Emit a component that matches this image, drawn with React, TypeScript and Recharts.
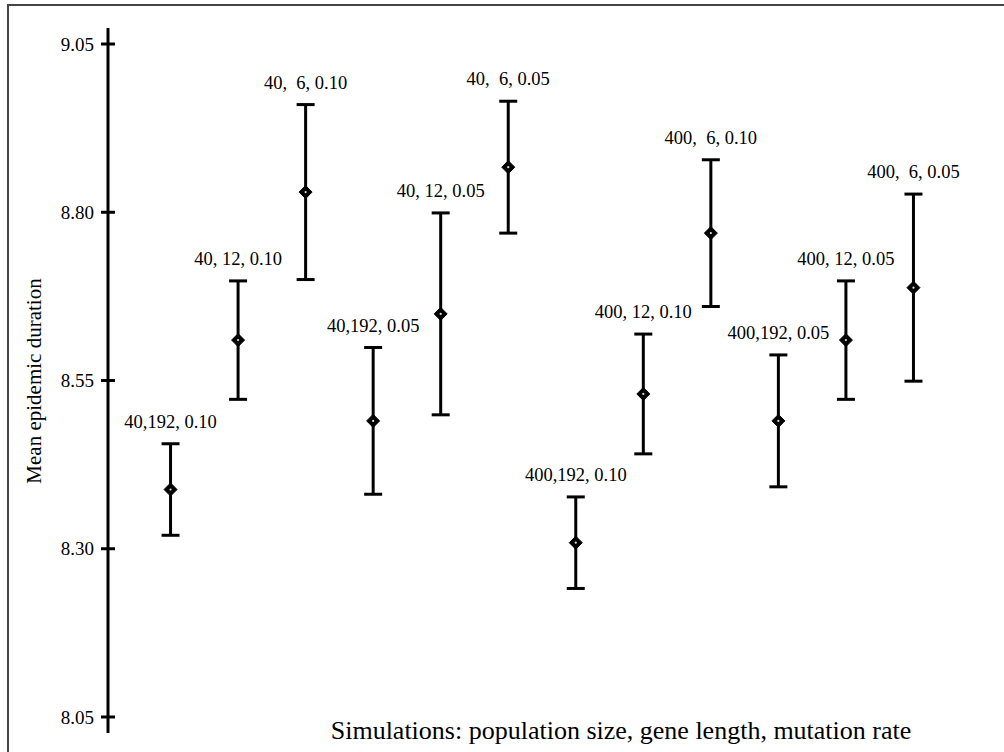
import React from 'react';
import {
  ScatterChart,
  Scatter,
  XAxis,
  YAxis,
  ErrorBar,
} from 'recharts';

const labels = [
  '40,192, 0.10',
  '40, 12, 0.10',
  '40,  6, 0.10',
  '40,192, 0.05',
  '40, 12, 0.05',
  '40,  6, 0.05',
  '400,192, 0.10',
  '400, 12, 0.10',
  '400,  6, 0.10',
  '400,192, 0.05',
  '400, 12, 0.05',
  '400,  6, 0.05',
];
const means = [8.388, 8.61, 8.83, 8.49, 8.649, 8.867, 8.309, 8.53, 8.769, 8.49, 8.61, 8.688];
const errors = [0.068, 0.088, 0.13, 0.109, 0.15, 0.098, 0.068, 0.089, 0.109, 0.098, 0.088, 0.139];
const yTicks = [8.05, 8.3, 8.55, 8.8, 9.05];

const FONT = '"Liberation Serif", "DejaVu Serif", serif';

const points = means.map((m, i) => ({ x: i + 1, y: m, err: errors[i] }));
const labelPoints = means.map((m, i) => ({ x: i + 1, y: m + errors[i], label: labels[i] }));

const Diamond = (props: any) => {
  const { cx, cy } = props;
  const r = 6.5;
  return (
    <g>
      <polygon
        points={`${cx},${cy - r} ${cx + r},${cy} ${cx},${cy + r} ${cx - r},${cy}`}
        fill="#000"
        stroke="#000"
        strokeWidth={1}
      />
      <circle cx={cx} cy={cy} r={1.1} fill="#ddd" />
    </g>
  );
};

const TopLabel = (props: any) => {
  const { cx, cy, payload } = props;
  return (
    <text
      x={cx}
      y={cy - 16}
      textAnchor="middle"
      fontFamily={FONT}
      fontSize={18.5}
      fill="#000"
      style={{ whiteSpace: 'pre' }}
    >
      {payload.label}
    </text>
  );
};

const CrossTick = (props: any) => {
  const { x, y, payload } = props;
  return (
    <g>
      <line x1={x - 7} x2={x + 7} y1={y} y2={y} stroke="#000" strokeWidth={3} />
      <text
        x={x - 14}
        y={y}
        dy="0.35em"
        textAnchor="end"
        fontFamily={FONT}
        fontSize={19}
        fill="#000"
      >
        {payload.value.toFixed(2)}
      </text>
    </g>
  );
};

export default function App() {
  return (
    <div style={{ position: 'absolute', left: 0, top: 0, width: 1004, height: 752, background: '#fff' }}>
      <div
        style={{
          position: 'absolute',
          left: 7,
          top: 4,
          right: 0,
          bottom: 0,
          borderLeft: '2px solid #444',
          borderTop: '2px solid #444',
        }}
      />
      <ScatterChart
        width={1004}
        height={752}
        margin={{ top: 28, right: 23, bottom: 19, left: 0 }}
        style={{ position: 'absolute', left: 0, top: 0 }}
      >
        <XAxis type="number" dataKey="x" domain={[0.074, 13]} hide />
        <YAxis
          type="number"
          dataKey="y"
          width={108}
          domain={[8.0262, 9.0738]}
          ticks={yTicks}
          allowDataOverflow
          interval={0}
          tickSize={0}
          tickMargin={0}
          tickLine={false}
          axisLine={{ stroke: '#000', strokeWidth: 3 }}
          tick={(p: any) => <CrossTick {...p} />}
        />
        <Scatter data={points} shape={<Diamond />} isAnimationActive={false}>
          <ErrorBar dataKey="err" direction="y" width={9} strokeWidth={3} stroke="#000" />
        </Scatter>
        <Scatter data={labelPoints} shape={<TopLabel />} isAnimationActive={false} />
      </ScatterChart>
      <div
        style={{
          position: 'absolute',
          left: 34,
          top: 381,
          transform: 'translate(-50%, -50%) rotate(-90deg)',
          fontFamily: FONT,
          fontSize: 21,
          whiteSpace: 'nowrap',
        }}
      >
        Mean epidemic duration
      </div>
      <div
        style={{
          position: 'absolute',
          left: 621,
          top: 731,
          transform: 'translate(-50%, -50%)',
          fontFamily: FONT,
          fontSize: 26,
          whiteSpace: 'nowrap',
        }}
      >
        Simulations: population size, gene length, mutation rate
      </div>
    </div>
  );
}
